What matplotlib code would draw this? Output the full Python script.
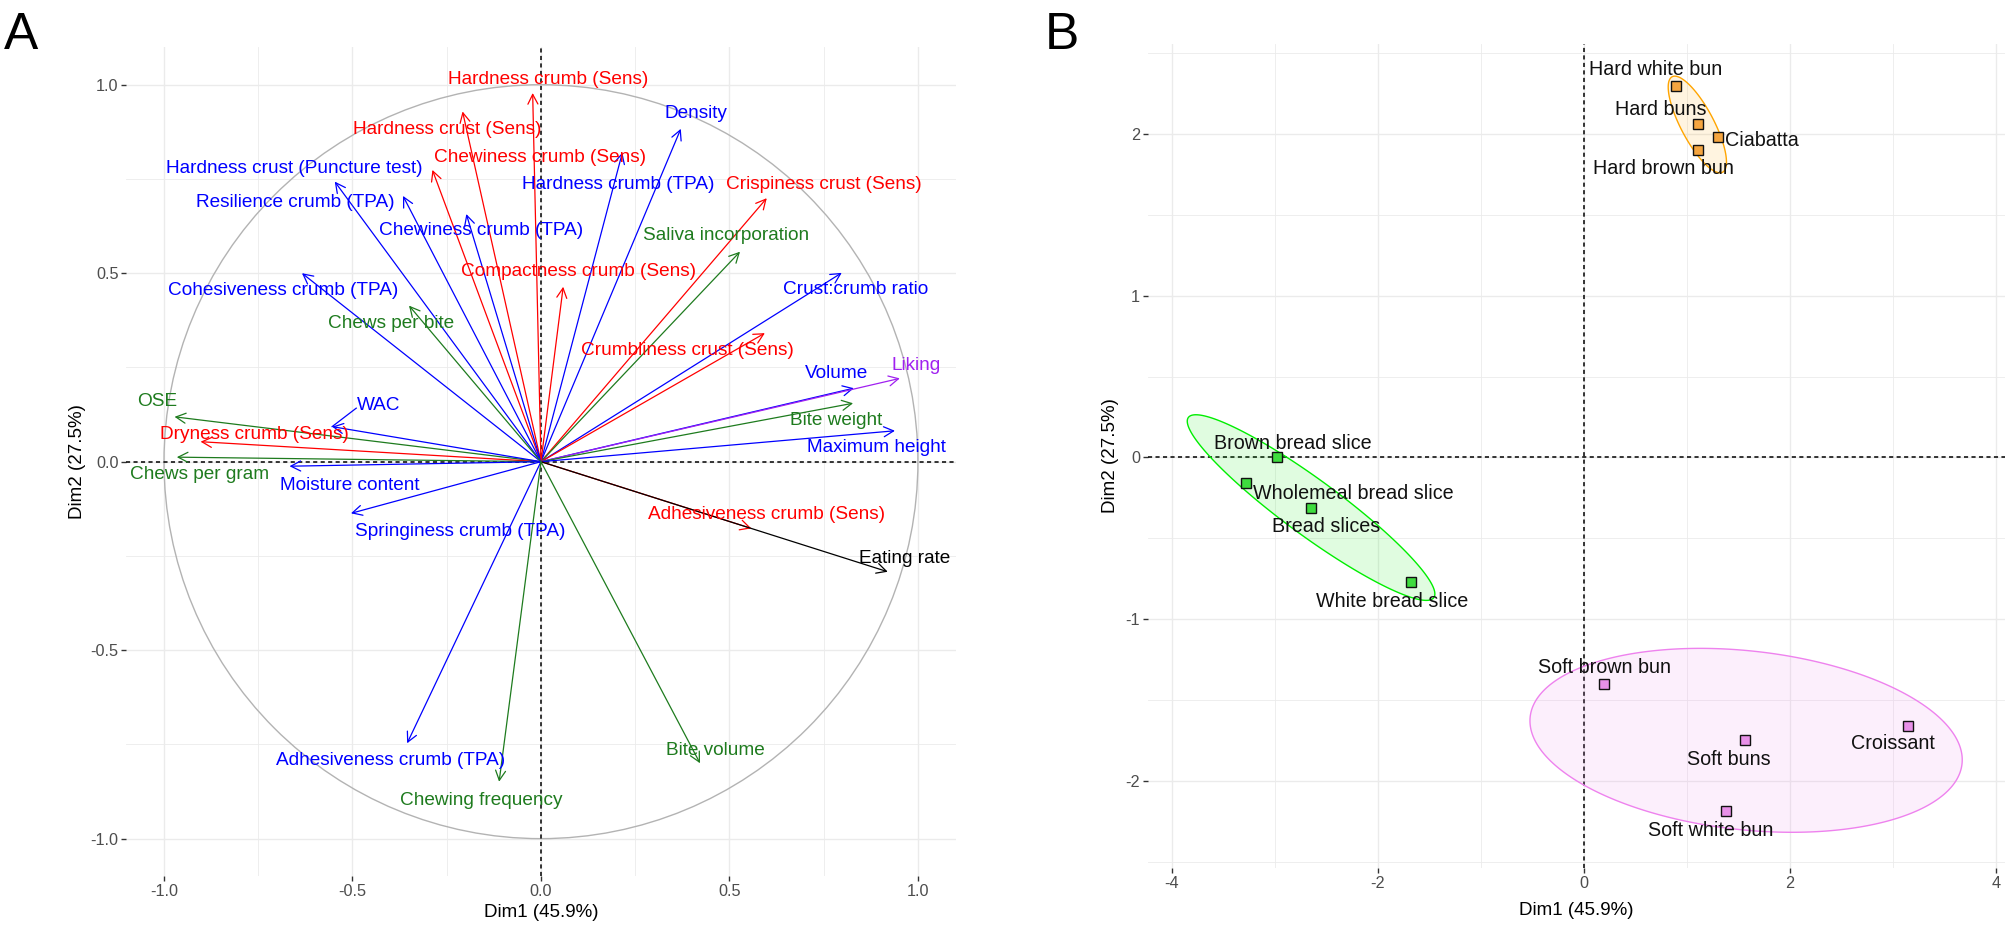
import numpy as np
import matplotlib
matplotlib.use('Agg')
import matplotlib.pyplot as plt
from matplotlib.patches import FancyArrowPatch, Circle, Polygon, ArrowStyle
from matplotlib.ticker import MultipleLocator, FixedLocator, FormatStrFormatter

plt.rcParams['font.family'] = ['Liberation Sans', 'DejaVu Sans']
plt.rcParams['axes.unicode_minus'] = False

# ---------------- Panel A data: variable loadings ----------------
var_names = [
    "Hardness crumb (Sens)", "Hardness crust (Sens)", "Chewiness crumb (Sens)",
    "Density", "Hardness crumb (TPA)", "Hardness crust (Puncture test)",
    "Resilience crumb (TPA)", "Chewiness crumb (TPA)", "Crispiness crust (Sens)",
    "Saliva incorporation", "Compactness crumb (Sens)", "Cohesiveness crumb (TPA)",
    "Chews per bite", "Crust:crumb ratio", "Crumbliness crust (Sens)",
    "Volume", "Liking", "Bite weight", "Maximum height",
    "Adhesiveness crumb (Sens)", "Eating rate", "OSE", "Dryness crumb (Sens)",
    "WAC", "Chews per gram", "Moisture content", "Springiness crumb (TPA)",
    "Adhesiveness crumb (TPA)", "Chewing frequency", "Bite volume",
]
var_dim1 = [-0.022, -0.208, -0.288, 0.371, 0.216, -0.547, -0.366, -0.198, 0.599,
            0.528, 0.059, -0.634, -0.350, 0.798, 0.594, 0.830, 0.952, 0.828, 0.939,
            0.558, 0.920, -0.972, -0.903, -0.554, -0.966, -0.667, -0.504,
            -0.355, -0.111, 0.422]
var_dim2 = [0.978, 0.929, 0.774, 0.883, 0.820, 0.743, 0.705, 0.657, 0.699,
            0.557, 0.464, 0.500, 0.414, 0.501, 0.341, 0.195, 0.221, 0.155, 0.082,
            -0.177, -0.292, 0.119, 0.053, 0.093, 0.012, -0.012, -0.137,
            -0.747, -0.849, -0.800]
var_group = ["Sens", "Sens", "Sens", "Instr", "Instr", "Instr", "Instr", "Instr", "Sens",
             "Oral", "Sens", "Instr", "Oral", "Instr", "Sens", "Instr", "Liking", "Oral",
             "Instr", "Sens", "Rate", "Oral", "Sens", "Instr", "Oral", "Instr", "Instr",
             "Instr", "Oral", "Oral"]

# ---------------- Panel B data: individuals ----------------
ind_names = ["Hard white bun", "Ciabatta", "Hard brown bun",
             "Brown bread slice", "Wholemeal bread slice", "White bread slice",
             "Soft brown bun", "Croissant", "Soft white bun"]
ind_dim1 = [0.90, 1.30, 1.11, -2.98, -3.28, -1.68, 0.20, 3.15, 1.38]
ind_dim2 = [2.30, 1.98, 1.90, 0.00, -0.16, -0.77, -1.40, -1.66, -2.19]
ind_group = ["Hard buns", "Hard buns", "Hard buns",
             "Bread slices", "Bread slices", "Bread slices",
             "Soft buns", "Soft buns", "Soft buns"]
group_names = ["Hard buns", "Bread slices", "Soft buns"]
group_dim1 = [1.11, -2.65, 1.57]
group_dim2 = [2.06, -0.315, -1.75]

# ---------------- styles / layout ----------------
var_colors = {"Sens": "#FF0000", "Instr": "#0000FF", "Oral": "#1E7B1E",
              "Rate": "#000000", "Liking": "#A020F0"}
grp_edge = {"Hard buns": "#FFA500", "Bread slices": "#00EE00", "Soft buns": "#EE82EE"}
grp_fill = {"Hard buns": "#F5A540", "Bread slices": "#3EDC3E", "Soft buns": "#E890E8"}

# label offsets (data units) of repelled labels relative to arrow tips / points
var_label_off = [(0.041, 0.037), (-0.041, -0.048), (0.285, 0.034), (0.039, 0.040),
                 (-0.012, -0.086), (-0.107, 0.036), (-0.285, -0.017), (0.038, -0.044),
                 (0.151, 0.035), (-0.038, 0.044), (0.040, 0.041), (-0.049, -0.046),
                 (-0.047, -0.047), (0.037, -0.044), (-0.206, -0.045), (-0.047, 0.038),
                 (0.043, 0.035), (-0.044, -0.045), (-0.050, -0.044), (0.040, 0.038),
                 (0.045, 0.036), (-0.045, 0.040), (0.142, 0.020), (0.124, 0.055),
                 (0.061, -0.047), (0.160, -0.050), (0.290, -0.047), (-0.044, -0.046),
                 (-0.047, -0.050), (0.042, 0.033)]
ind_label_off = [(-0.20, 0.10), (0.43, -0.02), (-0.34, -0.11),
                 (0.16, 0.085), (1.04, -0.06), (-0.18, -0.12),
                 (0.0, 0.10), (-0.15, -0.11), (-0.15, -0.12)]
grp_label_off = [(-0.36, 0.09), (0.15, -0.115), (-0.16, -0.12)]

GRID = "#EBEBEB"
TICKC = "#4D4D4D"

fig = plt.figure(figsize=(20.08, 9.38), dpi=100)
axA = fig.add_axes([0.0629, 0.0657, 0.4130, 0.8842])
axB = fig.add_axes([0.5717, 0.0746, 0.4268, 0.8785])


def style_axes(ax):
    for s in ax.spines.values():
        s.set_visible(False)
    ax.grid(True, which='major', color=GRID, lw=1.0, zorder=0)
    ax.grid(True, which='minor', color=GRID, lw=0.6, zorder=0)
    ax.set_axisbelow(True)
    ax.tick_params(which='major', length=3.8, width=1.0, color='#333333',
                   labelsize=11.7, labelcolor=TICKC, pad=1.8)
    ax.tick_params(which='minor', length=0)


# ---------------- Panel A ----------------
style_axes(axA)
axA.set_xlim(-1.1, 1.1)
axA.set_ylim(-1.1, 1.1)
axA.set_aspect('equal', adjustable='box')
axA.xaxis.set_major_locator(FixedLocator([-1, -0.5, 0, 0.5, 1]))
axA.yaxis.set_major_locator(FixedLocator([-1, -0.5, 0, 0.5, 1]))
axA.xaxis.set_minor_locator(MultipleLocator(0.25))
axA.yaxis.set_minor_locator(MultipleLocator(0.25))
axA.xaxis.set_major_formatter(FormatStrFormatter('%.1f'))
axA.yaxis.set_major_formatter(FormatStrFormatter('%.1f'))

axA.add_patch(Circle((0, 0), 1.0, fill=False, edgecolor='#B3B3B3', lw=1.0, zorder=1))
axA.axhline(0, color='black', lw=1.1, ls=(0, (2.7, 2.2)), zorder=2)
axA.axvline(0, color='black', lw=1.1, ls=(0, (2.7, 2.2)), zorder=2)

astyle = ArrowStyle('->', head_length=7.0, head_width=3.6)
for name, x, y, g, (dx, dy) in zip(var_names, var_dim1, var_dim2, var_group, var_label_off):
    c = var_colors[g]
    arr = FancyArrowPatch((0, 0), (x, y), arrowstyle=astyle, mutation_scale=1,
                          color=c, lw=0.9, shrinkA=0, shrinkB=0, zorder=3)
    axA.add_patch(arr)
    if name == "WAC":
        axA.plot([x, x + 0.064], [y, y + 0.049], color=c, lw=0.9, zorder=3)
    axA.text(x + dx, y + dy, name, color=c, fontsize=13.7, ha='center', va='center',
             zorder=4)

axA.set_xlabel("Dim1 (45.9%)", fontsize=13.5, color='black')
axA.set_ylabel("Dim2 (27.5%)", fontsize=13.5, color='black')
axA.xaxis.set_label_coords(0.5, -0.0441)
axA.yaxis.set_label_coords(-0.0587, 0.5)
axA.xaxis.label.set_va('center')
axA.yaxis.label.set_va('center')

# ---------------- Panel B ----------------
style_axes(axB)
axB.set_xlim(-4.23, 4.09)
axB.set_ylim(-2.54, 2.558)
axB.xaxis.set_major_locator(FixedLocator([-4, -2, 0, 2, 4]))
axB.yaxis.set_major_locator(FixedLocator([-2, -1, 0, 1, 2]))
axB.xaxis.set_minor_locator(MultipleLocator(1))
axB.yaxis.set_minor_locator(MultipleLocator(0.5))

axB.axhline(0, color='black', lw=1.1, ls=(0, (2.7, 2.2)), zorder=2)
axB.axvline(0, color='black', lw=1.1, ls=(0, (2.7, 2.2)), zorder=2)

ind_x = np.array(ind_dim1)
ind_y = np.array(ind_dim2)
ind_g = np.array(ind_group)
for g in group_names:
    m = ind_g == g
    pts = np.column_stack([ind_x[m], ind_y[m]])
    mu = pts.mean(axis=0)
    cov = np.cov(pts.T)
    vals, vecs = np.linalg.eigh(cov)
    scale = np.sqrt(-2.0 * np.log(0.05)) / np.sqrt(m.sum())
    t = np.linspace(0, 2 * np.pi, 300)
    circ = np.stack([np.cos(t), np.sin(t)])
    ell = (vecs @ (np.sqrt(np.clip(vals, 0, None))[:, None] * circ)) * scale + mu[:, None]
    axB.add_patch(Polygon(ell.T, closed=True, facecolor=grp_edge[g], alpha=0.12,
                          edgecolor='none', zorder=2))
    axB.add_patch(Polygon(ell.T, closed=True, facecolor='none', edgecolor=grp_edge[g],
                          lw=1.0, zorder=2))

for name, x, y, g, (dx, dy) in zip(ind_names, ind_dim1, ind_dim2, ind_group, ind_label_off):
    axB.plot(x, y, marker='s', ms=7.2, mfc=grp_fill[g], mec='#111111', mew=1.0,
             ls='none', zorder=4)
    axB.text(x + dx, y + dy, name, fontsize=14.2, color='#111111', ha='center',
             va='center', zorder=5)
for name, x, y, (dx, dy) in zip(group_names, group_dim1, group_dim2, grp_label_off):
    axB.plot(x, y, marker='s', ms=7.2, mfc=grp_fill[name], mec='#111111', mew=1.0,
             ls='none', zorder=4)
    axB.text(x + dx, y + dy, name, fontsize=14.2, color='#111111', ha='center',
             va='center', zorder=5)

axB.set_xlabel("Dim1 (45.9%)", fontsize=13.5, color='black')
axB.set_ylabel("Dim2 (27.5%)", fontsize=13.5, color='black')
axB.xaxis.set_label_coords(0.5, -0.051)
axB.yaxis.set_label_coords(-0.0443, 0.5)
axB.xaxis.label.set_va('center')
axB.yaxis.label.set_va('center')

# panel letters
fig.text(4 / 2008, 1 - 49 / 938, "A", fontsize=37, ha='left', va='baseline')
fig.text(1045 / 2008, 1 - 49 / 938, "B", fontsize=37, ha='left', va='baseline')

fig.savefig("out.png", dpi=100)
